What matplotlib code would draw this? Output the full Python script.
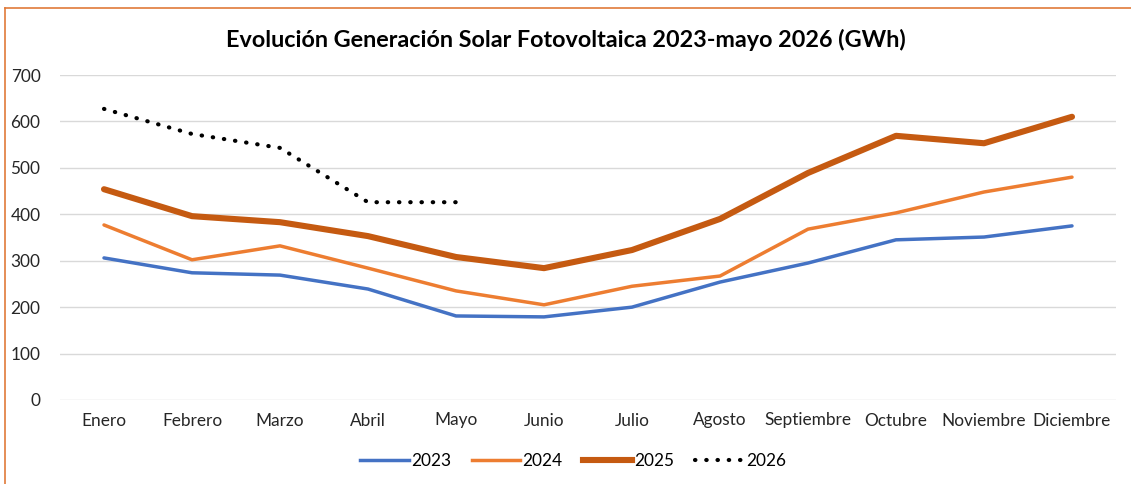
import numpy as np
import matplotlib.pyplot as plt
from matplotlib.lines import Line2D

plt.rcParams['font.family'] = ['Lato', 'DejaVu Sans']

# Datos (GWh)
meses = ["Enero", "Febrero", "Marzo", "Abril", "Mayo", "Junio", "Julio",
         "Agosto", "Septiembre", "Octubre", "Noviembre", "Diciembre"]
g2023 = [306, 274, 269, 239, 181, 179, 200, 254, 295, 345, 351, 375]
g2024 = [377, 302, 332, 284, 235, 205, 245, 267, 368, 403, 448, 480]
g2025 = [454, 396, 383, 353, 308, 284, 323, 390, 489, 569, 553, 610]
g2026 = [627, 573, 543, 426, 426]

fig = plt.figure(figsize=(11.31, 4.84), dpi=100)
ax = fig.add_axes([60/1131, 1 - 400/484, (1116 - 60)/1131, 325/484])

x = np.arange(len(meses))
ax.plot(x, g2023, color='#4472C4', lw=2.5, solid_capstyle='round', label='2023')
ax.plot(x, g2024, color='#ED7D31', lw=2.5, solid_capstyle='round', label='2024')
ax.plot(x, g2025, color='#C55A11', lw=4.4, solid_capstyle='round', label='2025')
ax.plot(x[:len(g2026)], g2026, color='black', lw=3, linestyle=(0, (0.1, 2.6)),
        dash_capstyle='round', label='2026')

ax.set_xlim(-0.5, 11.5)
ax.set_ylim(0, 700)
ax.set_yticks(range(0, 701, 100))
ax.set_xticks(x)
ax.set_xticklabels(meses)
ax.grid(axis='y', color='#D9D9D9', lw=1)
ax.set_axisbelow(True)
for s in ax.spines.values():
    s.set_visible(False)
ax.tick_params(length=0, labelsize=12.4, colors='#262626', pad=9)
ax.tick_params(axis='y', pad=14)

fig.text(0.5, 1 - 40/484, "Evolución Generación Solar Fotovoltaica 2023-mayo 2026 (GWh)",
         ha='center', va='center', fontsize=16.8, fontweight='bold', color='black')

handles = [Line2D([], [], color='#4472C4', lw=2.5),
           Line2D([], [], color='#ED7D31', lw=2.5),
           Line2D([], [], color='#C55A11', lw=4.4),
           Line2D([], [], color='black', lw=3, linestyle=(0, (0.1, 2.6)), dash_capstyle='round')]
fig.legend(handles, ['2023', '2024', '2025', '2026'], loc='center',
           bbox_to_anchor=(573/1131, 1 - 461/484), ncol=4, frameon=False,
           fontsize=12.4, handlelength=2.8, handletextpad=0.15, columnspacing=1.2)

# marco naranja
fig.add_artist(Line2D([5/1131, 1], [1 - 8/484, 1 - 8/484], color='#E07A3A', lw=1.2))
fig.add_artist(Line2D([5/1131, 5/1131], [0, 1 - 8/484], color='#E07A3A', lw=1.2))

fig.savefig("out.png", dpi=100)
